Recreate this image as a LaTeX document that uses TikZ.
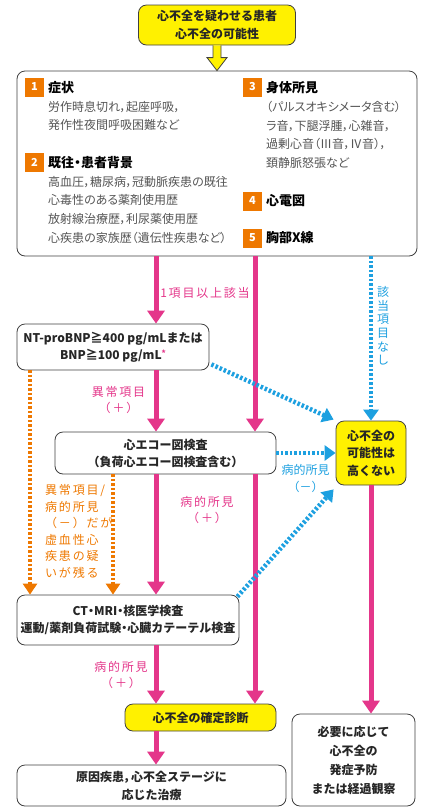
\documentclass[tikz,border=0pt]{standalone}
\usepackage{fontspec}
\newfontfamily\jpfont{Noto Sans CJK JP}
\newfontfamily\jppalt[RawFeature=+palt]{Noto Sans CJK JP}
\newfontfamily\jpwide[LetterSpace=15]{Noto Sans CJK JP}
\newcommand{\dotsep}{\kern-3pt・\kern-3pt}
\newcommand{\commasep}{\kern-1pt，\kern-4pt}
\usepackage{xcolor}
\definecolor{heart_pink}{RGB}{228,54,138}
\definecolor{sky_blue}{RGB}{29,160,224}
\definecolor{deep_orange}{RGB}{238,120,0}
\definecolor{sign_yellow}{RGB}{255,241,0}
\definecolor{text_gray}{RGB}{85,85,85}
\usepackage{tikz}
\usetikzlibrary{arrows.meta,calc}

\begin{document}
\begin{tikzpicture}[x=1pt, y=-1pt,
  wbox/.style={draw=black!75, line width=0.8pt, rounded corners=8pt, fill=white, align=center, inner sep=0pt,
    font=\jpfont\bfseries\fontsize{12}{17}\selectfont, text=black!85},
  ybox/.style={wbox, fill=sign_yellow},
  numsq/.style={fill=deep_orange, text=white, minimum size=19pt, inner sep=0pt, font=\jpfont\bfseries\fontsize{11}{11}\selectfont},
  head/.style={anchor=west, inner sep=0pt, text height=10pt, text depth=1pt, font=\jpfont\bfseries\fontsize{13}{13}\selectfont},
  item/.style={anchor=west, inner sep=0pt, text height=10pt, text depth=1pt, text=text_gray, font=\jppalt\fontsize{12}{12}\selectfont},
  pinklabel/.style={inner sep=0pt, text=heart_pink, font=\jpwide\fontsize{12}{12}\selectfont},
  bluelabel/.style={inner sep=0pt, text=sky_blue, font=\jpfont\fontsize{12}{12}\selectfont},
  pinkarrow/.style={draw=heart_pink, line width=5pt, -{Triangle[width=17pt,length=13pt]}},
  bluearrow/.style={draw=sky_blue, line width=4.5pt, dash pattern=on 2.5pt off 2pt, -{Triangle[width=15pt,length=11pt]}},
  orangearrow/.style={draw=deep_orange, line width=4pt, dash pattern=on 2.5pt off 2pt, -{Triangle[width=14pt,length=11pt]}}]
\useasboundingbox (0,0) rectangle (427,807);

% start and checklist
\node[ybox, minimum width=157pt, minimum height=40pt, font=\jpfont\bfseries\fontsize{12}{17.5}\selectfont] (start) at (217,25) {心不全を疑わせる患者\\心不全の可能性};
\node[wbox, minimum width=400pt, minimum height=185pt] (check) at (217,163.5) {};

\node[numsq] (n1) at (34.5,87) {1};
\node[head] (h1) at (48,88) {症状};
\node[item] (l1a) at (48,107) {労作時息切れ，起座呼吸，};
\node[item] (l1b) at (48,125) {発作性夜間呼吸困難など};

\node[numsq] (n2) at (34.5,162.5) {2};
\node[head] (h2) at (48,163) {既往\dotsep 患者背景};
\node[item] (l2a) at (48,182) {高血圧，糖尿病，冠動脈疾患の既往};
\node[item] (l2b) at (48,200) {心毒性のある薬剤使用歴};
\node[item] (l2c) at (48,219) {放射線治療歴，利尿薬使用歴};
\node[item] (l2d) at (48,238) {心疾患の家族歴（遺伝性疾患など）};

\node[numsq] (n3) at (252.5,87) {3};
\node[head] (h3) at (266,88) {身体所見};
\node[item] (l3a) at (266,107) {（パルスオキシメータ含む）};
\node[item] (l3b) at (266,126) {ラ音，下腿浮腫，心雑音，};
\node[item] (l3c) at (266,144) {過剰心音（Ⅲ音，Ⅳ音），};
\node[item] (l3d) at (266,163) {頚静脈怒張など};

\node[numsq] (n4) at (252.5,201) {4};
\node[head] (h4) at (266,201) {心電図};
\node[numsq] (n5) at (252.5,238) {5};
\node[head] (h5) at (266,238) {胸部X線};

% test boxes
\node[wbox, minimum width=192pt, minimum height=46pt] (nt) at (113,347) {NT-proBNP≧400 pg/mLまたは\\BNP≧100 pg/mL{\color{heart_pink}\raisebox{3pt}{\fontsize{8}{8}\selectfont *}}};
\node[ybox, minimum width=70pt, minimum height=64pt, font=\jpfont\bfseries\fontsize{12}{17.5}\selectfont] (nlk) at (371,453) {心不全の\\可能性は\\高くない};
\node[wbox, minimum width=221pt, minimum height=42pt] (echo) at (165.5,453) {心エコー図検査\\（負荷心エコー図検査含む）};
\node[wbox, minimum width=222pt, minimum height=50pt] (ct) at (128,620) {CT\dotsep MRI\dotsep 核医学検査\\運動/薬剤負荷試験\dotsep 心臓カテーテル検査};
\node[ybox, minimum width=151pt, minimum height=27pt] (diag) at (200.5,717.5) {心不全の確定診断};
\node[wbox, minimum width=269pt, minimum height=41pt, font=\jpfont\bfseries\fontsize{12}{18}\selectfont] (treat) at (151.5,785.5) {原因疾患\commasep 心不全ステージに\\応じた治療};
\node[wbox, minimum width=123pt, minimum height=92pt, font=\jpfont\bfseries\fontsize{12}{19}\selectfont] (prev) at (353.5,760) {必要に応じて\\心不全の\\発症予防\\または経過観察};

% labels
\node[pinklabel] (lab1) at (205,293) {1項目以上該当};
\node[pinklabel, align=center, font=\jpwide\fontsize{12}{16}\selectfont] (lab2) at (118.5,400.5) {異常項目\\（＋）};
\node[pinklabel, align=center, font=\jpwide\fontsize{12}{16}\selectfont] (lab3) at (207,510.5) {病的所見\\（＋）};
\node[pinklabel, align=center, font=\jpwide\fontsize{12}{16}\selectfont] (lab4) at (121,675) {病的所見\\（＋）};
\node[bluelabel, align=center, font=\jpfont\fontsize{12}{13.6}\selectfont] (labnone) at (383,326) {該\\当\\項\\目\\な\\し};
\node[bluelabel, align=center, font=\jpfont\fontsize{12}{17}\selectfont] (labneg) at (305.5,478.5) {病的所見\\（－）};
\node[anchor=west, inner sep=0pt, align=left, text=deep_orange, font=\jpwide\fontsize{12}{16.6}\selectfont] (labischemia) at (45,531.5) {異常項目/\\病的所見\\（－）だが\\虚血性心\\疾患の疑\\いが残る};

% connectors
\coordinate (colA) at (156,0);
\coordinate (colB) at (255,0);
\coordinate (colO1) at (30,0);
\coordinate (colO2) at (113,0);

\draw[fill=sign_yellow, draw=black!75, line width=0.8pt] ($(start.south)+(-4,0)$) -- ($(check.north)+(-4,-13)$) -- ($(check.north)+(-10,-13)$) -- (check.north) -- ($(check.north)+(10,-13)$) -- ($(check.north)+(4,-13)$) -- ($(start.south)+(4,0)$);

\draw[pinkarrow] (check.south -| colA) -- (nt.north -| colA);
\draw[pinkarrow] (check.south -| colB) -- (echo.north -| colB);
\draw[pinkarrow] (nt.south -| colA) -- (echo.north -| colA);
\draw[pinkarrow] (echo.south -| colA) -- (ct.north -| colA);
\draw[pinkarrow] (echo.south -| colB) -- (diag.north -| colB);
\draw[pinkarrow] (ct.south -| colA) -- (diag.north -| colA);
\draw[pinkarrow] (diag.south -| colA) -- (treat.north -| colA);
\draw[pinkarrow] (nlk.south) -- (nlk.south |- prev.north);

\draw[bluearrow] (check.south -| nlk.north) -- (nlk.north);
\draw[bluearrow] ($(nt.south east)+(2,-6)$) -- ($(nlk.north west)+(-2,-1)$);
\draw[bluearrow] (echo.east) -- (echo.east -| nlk.west);
\draw[bluearrow] ($(ct.north east)+(-2,2)$) -- ($(nlk.south west)+(-2,4)$);

\draw[orangearrow] (nt.south -| colO1) -- (ct.north -| colO1);
\draw[orangearrow] (echo.south -| colO2) -- (ct.north -| colO2);

\end{tikzpicture}
\end{document}
